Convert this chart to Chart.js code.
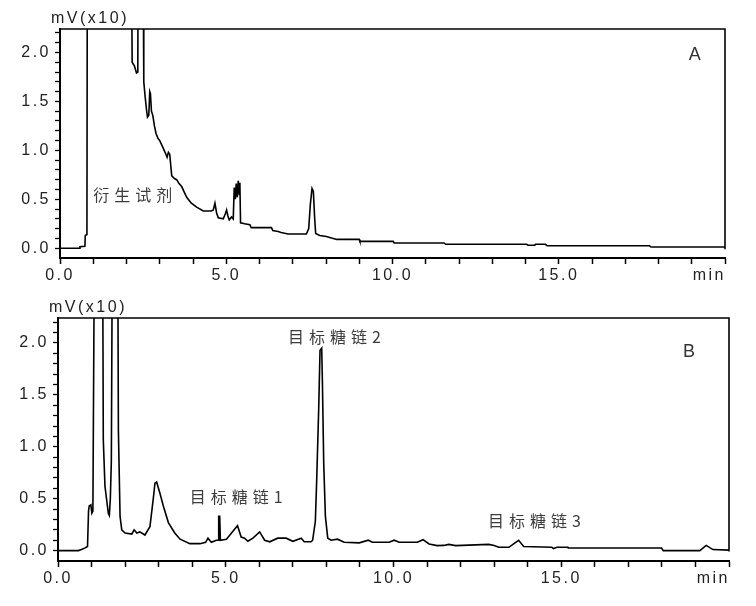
<!DOCTYPE html>
<html><head><meta charset="utf-8">
<script src="https://cdn.jsdelivr.net/npm/chart.js@4/dist/chart.umd.min.js"></script>
<style>
html,body{margin:0;padding:0;background:#fff;}
#wrap{position:relative;width:756px;height:606px;background:#fff;}
canvas{position:absolute;left:0;}
</style></head>
<body><div id="wrap">
<canvas id="cA" width="756" height="300" style="top:0"></canvas>
<canvas id="cB" width="756" height="306" style="top:300px"></canvas>
</div>
<script>
// ---- Data (time in min, signal in mV x10) ----
const timeA = [0,0.58,0.6,0.75,0.76,0.81,0.82,0.83,2.15,2.17,2.24,2.30,2.34,2.35,2.50,2.52,2.56,2.60,2.63,2.67,2.70,2.72,2.75,2.79,2.84,2.89,2.95,3.00,3.08,3.16,3.22,3.26,3.30,3.36,3.45,3.51,3.58,3.66,3.74,3.81,3.95,4.11,4.31,4.55,4.61,4.66,4.71,4.76,4.91,4.97,5.01,5.05,5.09,5.16,5.21,5.24,5.27,5.30,5.33,5.36,5.39,5.41,5.43,5.55,5.71,5.75,6.36,6.40,6.56,6.65,6.86,7.41,7.48,7.53,7.58,7.62,7.66,7.69,7.81,8.01,8.32,9.00,9.02,10.02,10.05,11.55,11.60,14.03,14.08,14.28,14.30,14.60,14.65,17.73,17.76,17.80,20.0];
const signalA = [0,0,0.015,0.02,0.13,0.14,2.6,3.0,3.0,1.90,1.86,1.79,1.80,3.0,3.0,1.70,1.55,1.42,1.34,1.36,1.60,1.58,1.40,1.36,1.25,1.17,1.12,1.10,1.04,0.98,0.93,0.98,0.96,0.74,0.71,0.70,0.66,0.63,0.57,0.52,0.46,0.42,0.38,0.38,0.39,0.46,0.36,0.31,0.30,0.35,0.39,0.33,0.29,0.32,0.30,0.62,0.50,0.66,0.52,0.69,0.55,0.67,0.26,0.25,0.24,0.21,0.21,0.18,0.17,0.16,0.145,0.145,0.20,0.45,0.61,0.58,0.30,0.15,0.13,0.12,0.09,0.09,0.07,0.07,0.054,0.054,0.04,0.04,0.03,0.03,0.04,0.04,0.025,0.025,0.015,0.012,0.012];

const timeB = [0,0.61,0.70,0.81,0.88,0.91,0.93,0.98,1.01,1.04,1.07,1.09,1.33,1.35,1.40,1.45,1.50,1.53,1.56,1.59,1.62,1.78,1.80,1.85,1.90,2.00,2.20,2.27,2.35,2.44,2.59,2.74,2.84,2.89,2.94,3.04,3.14,3.29,3.48,3.64,3.93,4.23,4.40,4.47,4.57,4.72,4.78,4.79,4.82,4.84,5.02,5.22,5.35,5.46,5.56,5.66,5.81,6.01,6.16,6.31,6.55,6.80,7.00,7.25,7.34,7.54,7.59,7.67,7.71,7.77,7.81,7.86,7.88,7.92,7.97,8.04,8.14,8.33,8.53,8.98,9.25,9.37,9.87,10.02,10.17,10.61,10.71,10.88,11.06,11.30,11.50,11.65,11.85,12.84,13.00,13.14,13.44,13.60,13.73,13.88,14.72,14.77,14.87,15.20,15.21,17.99,18.04,19.13,19.32,19.52,20.0];
const signalB = [0,0,0.01,0.026,0.04,0.38,0.43,0.44,0.36,0.38,2.1,3.0,3.0,1.07,0.62,0.49,0.36,0.34,0.50,0.86,3.0,3.0,1.16,0.33,0.20,0.17,0.16,0.20,0.17,0.18,0.15,0.23,0.50,0.65,0.66,0.55,0.43,0.27,0.17,0.11,0.067,0.067,0.08,0.12,0.08,0.10,0.10,0.33,0.33,0.10,0.11,0.19,0.24,0.13,0.12,0.09,0.12,0.18,0.10,0.085,0.12,0.12,0.09,0.12,0.085,0.085,0.10,0.28,0.67,1.36,1.93,1.95,1.64,0.84,0.33,0.12,0.10,0.11,0.08,0.075,0.10,0.08,0.08,0.10,0.08,0.08,0.08,0.105,0.064,0.048,0.05,0.06,0.048,0.06,0.05,0.032,0.032,0.07,0.10,0.04,0.032,0.02,0.032,0.032,0.025,0.025,0.0,0.0,0.05,0.01,0.005];

const xTickLabels = ['0.0','5.0','10.0','15.0'];
const yTickLabels = ['0.0','0.5','1.0','1.5','2.0'];

// annotations: [text, time, signal]
const notesA = [['衍生试剂', 2.19, 0.54]];
const notesB = [['目标糖链2', 8.24, 2.06], ['目标糖链1', 5.31, 0.52], ['目标糖链3', 14.2, 0.29]];
const panelA = ['A', 19.09, 1.97];
const panelB = ['B', 18.81, 1.91];
const yUnit = 'mV(x10)';
const xUnit = 'min';

const FONT = 'Liberation Sans, Arial, sans-serif';
const CJK = '"Noto Sans CJK SC", sans-serif';

function spacingPlugin(ls){
  return {
    id:'spacing',
    beforeUpdate(c){ c.ctx.letterSpacing = ls; },
    beforeDraw(c){ c.ctx.letterSpacing = ls; }
  };
}

function decorPlugin(notes, panel){
  return {
    id:'decor',
    afterDraw(c){
      const ctx = c.ctx, a = c.chartArea, xs = c.scales.x, ys = c.scales.y;
      ctx.save();
      ctx.strokeStyle = '#000'; ctx.lineWidth = 1.6;
      ctx.beginPath();
      ctx.moveTo(a.left, a.top); ctx.lineTo(a.right, a.top);
      ctx.lineTo(a.right, ys.getPixelForValue(0) + 1);
      ctx.stroke();
      ctx.fillStyle = '#222';
      ctx.font = '16px ' + FONT;
      ctx.letterSpacing = '2.5px';
      ctx.textBaseline = 'middle';
      ctx.textAlign = 'left';
      ctx.fillText(yUnit, a.left - 9, a.top - 10);
      ctx.textAlign = 'right';
      ctx.fillText(xUnit, a.right + 1, a.bottom + 18);
      ctx.letterSpacing = '0px';
      ctx.font = '18px ' + FONT;
      ctx.fillStyle = '#333';
      ctx.textAlign = 'center';
      ctx.fillText(panel[0], xs.getPixelForValue(panel[1]), ys.getPixelForValue(panel[2]));
      ctx.font = '16px ' + CJK;
      ctx.letterSpacing = '5px';
      ctx.fillStyle = '#3c3c3c';
      notes.forEach(n => {
        ctx.fillText(n[0], xs.getPixelForValue(n[1]) + 2.5, ys.getPixelForValue(n[2]));
      });
      ctx.restore();
    }
  };
}

function makeChart(id, times, values, notes, panel, pad, yWidth, xHeight){
  const pts = times.map((t,i)=>({x:t, y:values[i]}));
  return new Chart(document.getElementById(id), {
    type:'line',
    data:{ datasets:[{ data:pts, borderColor:'#000', borderWidth:1.6, pointRadius:0, tension:0, fill:false }]},
    options:{
      responsive:false, animation:false, events:[],
      layout:{ padding: pad },
      plugins:{ legend:{display:false}, tooltip:{enabled:false} },
      scales:{
        x:{
          type:'linear', min:0, max:20,
          afterFit(s){ s.height = xHeight; },
          ticks:{ stepSize:1, autoSkip:false, maxRotation:0, padding:2, color:'#222',
            font:{ size:16, family:FONT },
            callback(v){ const k = Math.round(v); return (k % 5 === 0 && k < 20) ? xTickLabels[k/5] : ''; } },
          grid:{ drawOnChartArea:false, drawTicks:true, tickLength:6, tickColor:'#000', tickWidth:1.5 },
          border:{ display:true, color:'#000', width:2 }
        },
        y:{
          type:'linear', min:-0.1, max:2.24,
          afterFit(s){ s.width = yWidth; },
          ticks:{ stepSize:0.1, includeBounds:false, autoSkip:false, padding:4, color:'#222',
            font:{ size:16, family:FONT },
            callback(v){ const h = Math.round(v*10); return (h >= 0 && h % 5 === 0) ? yTickLabels[h/5] : ''; } },
          grid:{ drawOnChartArea:false, drawTicks:true, tickLength:5, tickWidth:1.3,
            tickColor(ctx){ return (ctx.tick && ctx.tick.value < -0.05) ? 'rgba(0,0,0,0)' : '#000'; } },
          border:{ display:true, color:'#000', width:2 }
        }
      }
    },
    plugins:[spacingPlugin('2.5px'), decorPlugin(notes, panel)]
  });
}

makeChart('cA', timeA, signalA, notesA, panelA, {top:29, right:31, left:0, bottom:0}, 60, 42);
makeChart('cB', timeB, signalB, notesB, panelB, {top:18, right:27, left:0, bottom:0}, 58, 45);
</script>
</body></html>
